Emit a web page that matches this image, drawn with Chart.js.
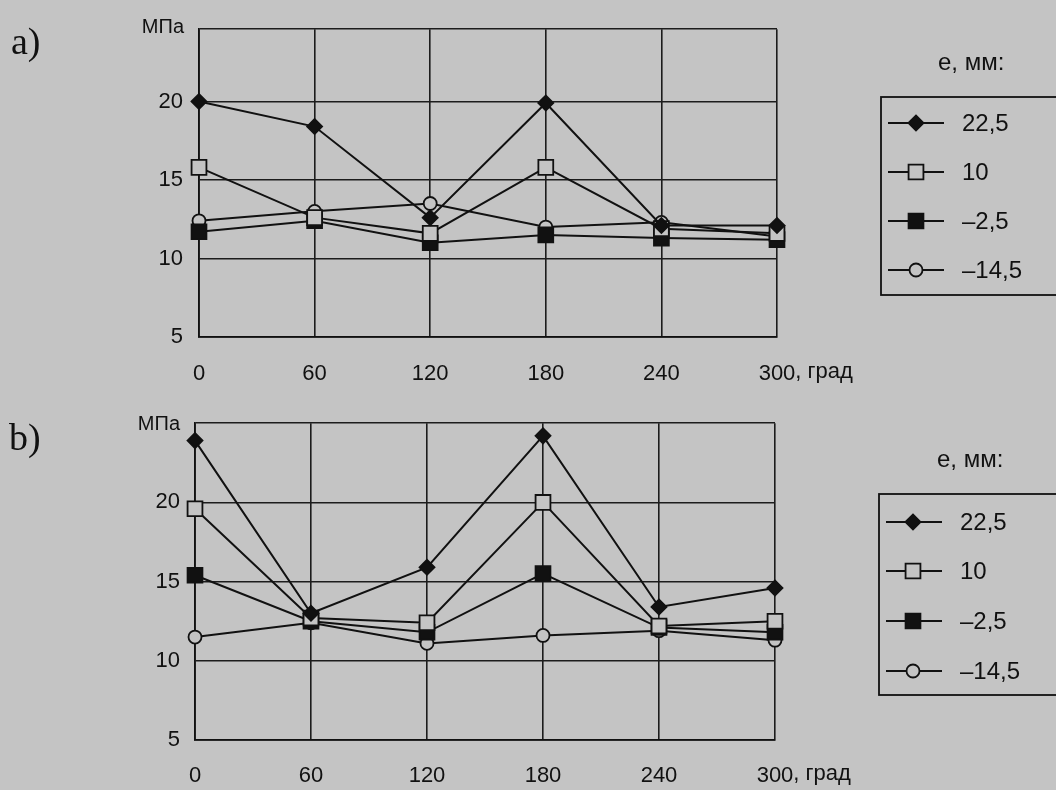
<!DOCTYPE html>
<html><head><meta charset="utf-8">
<script src="https://cdn.jsdelivr.net/npm/chart.js@4/dist/chart.umd.min.js"></script>
<style>
html,body{margin:0;padding:0;background:#c4c4c4;width:1056px;height:790px;overflow:hidden}
.wrap{position:absolute;left:0;width:1056px;height:395px}
canvas{display:block}
</style></head><body>
<div class="wrap" style="top:0"><canvas id="ca" width="1056" height="395"></canvas></div>
<div class="wrap" style="top:395px"><canvas id="cb" width="1056" height="395"></canvas></div>
<script>
// ---- data ----
const angles = [0, 60, 120, 180, 240, 300];
const seriesNames = ['22,5', '10', '–2,5', '–14,5'];
const yTickValues = [5, 10, 15, 20];
const panelLetters = ['a)', 'b)'];
const legendTitle = 'е, мм:';
const yUnit = 'МПа';
const xUnit = ', град';

// panel a
const a_yMax = 24.6;
const a_e22_5 = [20.0, 18.4, 12.6, 19.9, 12.1, 12.1];
const a_e10   = [15.8, 12.6, 11.6, 15.8, 11.9, 11.6];
const a_em2_5 = [11.7, 12.4, 11.0, 11.5, 11.3, 11.2];
const a_em14_5= [12.4, 13.0, 13.5, 12.0, 12.3, 11.4];
// panel b
const b_yMax = 25;
const b_e22_5 = [23.9, 13.0, 15.9, 24.2, 13.4, 14.6];
const b_e10   = [19.6, 12.7, 12.4, 20.0, 12.2, 12.5];
const b_em2_5 = [15.4, 12.5, 11.8, 15.5, 12.1, 11.8];
const b_em14_5= [11.5, 12.4, 11.1, 11.6, 11.9, 11.3];

// ---- styling ----
const BG = '#c4c4c4';
const INK = '#111111';
const FONT = '"Liberation Sans", Arial, sans-serif';
const markerStyles = [
  {pointStyle: 'rectRot', radius: 7.5, fill: INK},
  {pointStyle: 'rect', radius: 10.5, fill: BG},
  {pointStyle: 'rect', radius: 10.5, fill: INK},
  {pointStyle: 'circle', radius: 6.5, fill: BG}
];

function drawMarker(ctx, style, x, y) {
  ctx.save();
  ctx.fillStyle = style.fill; ctx.strokeStyle = INK; ctx.lineWidth = 1.8;
  ctx.beginPath();
  const r = style.radius;
  if (style.pointStyle === 'rectRot') {
    ctx.moveTo(x - r, y); ctx.lineTo(x, y - r); ctx.lineTo(x + r, y); ctx.lineTo(x, y + r); ctx.closePath();
  } else if (style.pointStyle === 'rect') {
    const s = Math.SQRT1_2 * r; ctx.rect(x - s, y - s, 2 * s, 2 * s);
  } else {
    ctx.arc(x, y, r, 0, Math.PI * 2);
  }
  ctx.fill(); ctx.stroke();
  ctx.restore();
}

const decor = {
  id: 'decor',
  afterDraw(chart, args, o) {
    const ctx = chart.ctx, ca = chart.chartArea, xs = chart.scales.x;
    ctx.save();
    ctx.fillStyle = INK;
    // panel letter
    ctx.font = '38px "Liberation Serif", "Times New Roman", serif';
    ctx.textAlign = 'left'; ctx.textBaseline = 'middle';
    ctx.fillText(o.letter, o.letterX, o.letterY);
    // y unit
    ctx.font = '20px ' + FONT;
    ctx.textAlign = 'right';
    ctx.fillText(yUnit, ca.left - 15, o.unitY);
    // x unit after last tick
    ctx.font = '22px ' + FONT;
    const last = angles[angles.length - 1];
    const w = ctx.measureText(String(last)).width;
    ctx.textAlign = 'left'; ctx.textBaseline = 'top';
    ctx.fillText(xUnit, xs.getPixelForValue(last) + w / 2, ca.bottom + o.xpad);
    // legend
    const L = o.legend;
    ctx.strokeStyle = INK; ctx.lineWidth = 1.8;
    ctx.strokeRect(L.boxX, L.boxTop, 1100 - L.boxX, L.boxBottom - L.boxTop);
    ctx.font = '24px ' + FONT; ctx.textBaseline = 'middle'; ctx.textAlign = 'left';
    ctx.fillText(legendTitle, L.titleX, L.titleY);
    chart.data.datasets.forEach((ds, i) => {
      const y = L.rows[i];
      ctx.beginPath(); ctx.strokeStyle = INK; ctx.lineWidth = 2;
      ctx.moveTo(L.x1, y); ctx.lineTo(L.x2, y); ctx.stroke();
      drawMarker(ctx, markerStyles[i], L.mx, y);
      ctx.fillStyle = INK;
      ctx.fillText(ds.label, L.tx, y + 1);
    });
    ctx.restore();
  }
};

function makeChart(id, seriesList, yMax, g) {
  const datasets = seriesList.map((vals, i) => ({
    label: seriesNames[i],
    data: angles.map((a, k) => ({x: a, y: vals[k]})),
    borderColor: INK, borderWidth: 2, tension: 0,
    pointStyle: markerStyles[i].pointStyle,
    pointRadius: markerStyles[i].radius,
    pointBackgroundColor: markerStyles[i].fill,
    pointBorderColor: INK, pointBorderWidth: 1.8,
    clip: false
  }));
  return new Chart(document.getElementById(id), {
    type: 'line',
    data: {datasets},
    options: {
      responsive: false, animation: false,
      layout: {padding: {left: 0, top: g.top, right: g.right, bottom: 0}},
      plugins: {legend: {display: false}, tooltip: {enabled: false}, decor: g.decor},
      scales: {
        x: {
          type: 'linear', min: angles[0], max: angles[angles.length - 1],
          afterBuildTicks: s => { s.ticks = angles.map(v => ({value: v})); },
          ticks: {color: INK, font: {family: FONT, size: 22}, padding: g.decor.xpad, maxRotation: 0, autoSkip: false},
          grid: {color: '#1c1c1c', lineWidth: 1.6, drawTicks: false},
          border: {color: INK, width: 1.8},
          afterFit: s => { s.height = g.xh; }
        },
        y: {
          min: yTickValues[0], max: yMax,
          afterBuildTicks: s => { s.ticks = yTickValues.concat([yMax]).map(v => ({value: v})); },
          ticks: {color: INK, font: {family: FONT, size: 22}, padding: g.ypad,
                  callback: v => yTickValues.includes(v) ? v : ''},
          grid: {color: '#1c1c1c', lineWidth: 1.6, drawTicks: false},
          border: {color: INK, width: 1.8},
          afterFit: s => { s.width = g.left; }
        }
      }
    },
    plugins: [decor]
  });
}

makeChart('ca', [a_e22_5, a_e10, a_em2_5, a_em14_5], a_yMax, {
  top: 27, right: 279, left: 199, xh: 58, ypad: 16,
  decor: {letter: panelLetters[0], letterX: 11, letterY: 44, unitY: 27, xpad: 24,
    legend: {boxX: 881, boxTop: 97, boxBottom: 295, titleX: 938, titleY: 63,
      rows: [123, 172, 221, 270], x1: 888, x2: 944, mx: 916, tx: 962}}
});
makeChart('cb', [b_e22_5, b_e10, b_em2_5, b_em14_5], b_yMax, {
  top: 28, right: 281, left: 195, xh: 50, ypad: 15,
  decor: {letter: panelLetters[1], letterX: 9, letterY: 45, unitY: 29, xpad: 23,
    legend: {boxX: 879, boxTop: 99, boxBottom: 300, titleX: 937, titleY: 65,
      rows: [127, 176, 226, 276], x1: 886, x2: 942, mx: 913, tx: 960}}
});
</script>
</body></html>
